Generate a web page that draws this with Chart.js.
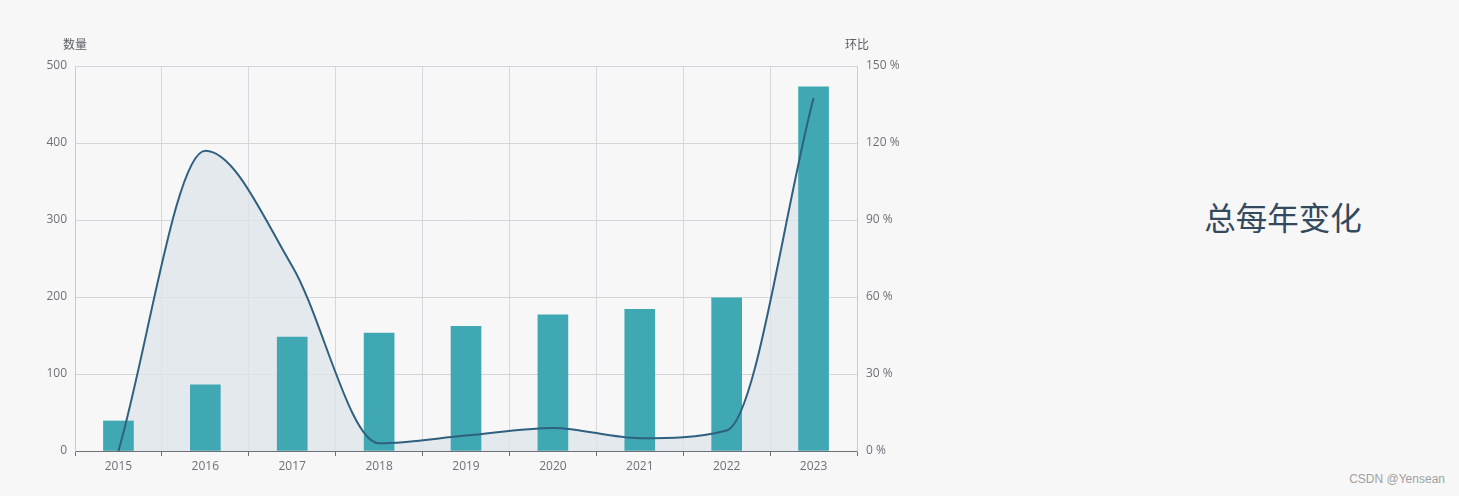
<!DOCTYPE html>
<html>
<head>
<meta charset="utf-8">
<script src="https://cdn.jsdelivr.net/npm/chart.js@4/dist/chart.umd.min.js"></script>
<style>
  html, body { margin: 0; padding: 0; background: #f7f7f7; width: 1459px; height: 496px; overflow: hidden; }
  #wrap { position: absolute; left: 0; top: 0; width: 920px; height: 496px; }
  #title { position: absolute; left: 1163px; top: 193px; width: 240px; text-align: center;
    font-family: "Noto Sans CJK SC", sans-serif; font-size: 31.5px; color: #34495e; line-height: 46px; }
  #mark { position: absolute; right: 14px; top: 472px; font-family: "Liberation Sans", Arial, sans-serif;
    font-size: 12px; color: #a0a0a0; }
</style>
</head>
<body>
<div id="wrap"><canvas id="c" width="920" height="496"></canvas></div>
<div id="title">总每年变化</div>
<div id="mark">CSDN @Yensean</div>
<script>
const years = ['2015', '2016', '2017', '2018', '2019', '2020', '2021', '2022', '2023'];
const counts = [39, 86, 148, 153, 162, 177, 184, 199, 473];
const growthPct = [0, 117, 72, 3, 6, 9, 5, 8, 137.5];
const leftAxisTitle = '数量';
const rightAxisTitle = '环比';

const tickColor = '#6e7079';
const tickFont = { family: '"Open Sans", "Noto Sans", sans-serif', size: 12 };

const axisTitles = {
  id: 'axisTitles',
  afterDraw(chart) {
    const ctx = chart.ctx;
    const ca = chart.chartArea;
    ctx.save();
    ctx.font = '12px "Noto Sans CJK SC", sans-serif';
    ctx.fillStyle = '#5a5d66';
    ctx.textAlign = 'center';
    ctx.textBaseline = 'middle';
    ctx.fillText(leftAxisTitle, ca.left, ca.top - 22);
    ctx.fillText(rightAxisTitle, ca.right, ca.top - 22);
    ctx.restore();
  }
};

new Chart(document.getElementById('c'), {
  data: {
    labels: years,
    datasets: [
      {
        type: 'line',
        label: rightAxisTitle,
        data: growthPct,
        yAxisID: 'y1',
        borderColor: '#2f607f',
        borderWidth: 2,
        backgroundColor: 'rgba(222,228,235,0.75)',
        fill: 'origin',
        pointRadius: 0,
        cubicInterpolationMode: 'monotone',
        order: 0
      },
      {
        type: 'bar',
        label: leftAxisTitle,
        data: counts,
        yAxisID: 'y',
        backgroundColor: '#3fa8b2',
        barThickness: 30,
        order: 1
      }
    ]
  },
  options: {
    responsive: false,
    animation: false,
    layout: { padding: { top: 66, left: 0, right: 0, bottom: 0 } },
    plugins: {
      legend: { display: false },
      tooltip: { enabled: false },
      filler: { drawTime: 'beforeDatasetsDraw' }
    },
    scales: {
      x: {
        offset: true,
        grid: { offset: true, color: '#d8d8dc', tickLength: 5, tickColor: tickColor },
        border: { color: tickColor, width: 1 },
        ticks: { color: tickColor, font: tickFont, padding: 3 },
        afterFit(s) { s.height = 45; }
      },
      y: {
        position: 'left',
        min: 0, max: 500,
        ticks: { stepSize: 100, color: tickColor, font: tickFont, padding: 8 },
        grid: { color: '#d3d5d9', drawTicks: false },
        border: { color: '#c9cbd0' },
        afterFit(s) { s.width = 75; }
      },
      y1: {
        position: 'right',
        min: 0, max: 150,
        ticks: { stepSize: 30, color: tickColor, font: tickFont, padding: 9,
          callback: v => v + ' %' },
        grid: { drawOnChartArea: false, drawTicks: false },
        border: { color: '#c9cbd0' },
        afterFit(s) { s.width = 63; }
      }
    }
  },
  plugins: [axisTitles]
});
</script>
</body>
</html>
